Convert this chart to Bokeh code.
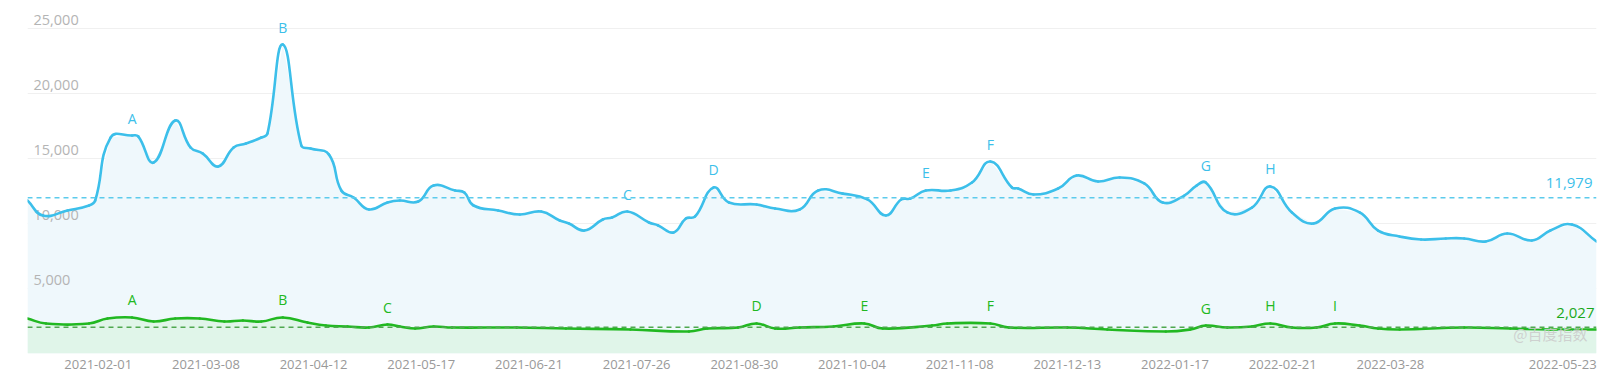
import math
import pandas as pd
from bokeh.plotting import figure
from bokeh.models import Range1d, FixedTicker, DatetimeTickFormatter, Span
from bokeh.core.properties import value
from bokeh.embed import file_html
from bokeh.resources import INLINE

# ---------------- data ----------------
blue_dates = [
    "2021-01-09", "2021-01-14", "2021-01-22", "2021-01-29", "2021-01-31", "2021-02-05",
    "2021-02-12", "2021-02-14", "2021-02-19", "2021-02-26", "2021-03-03", "2021-03-07",
    "2021-03-12", "2021-03-17", "2021-03-21", "2021-03-26", "2021-03-28", "2021-04-02",
    "2021-04-08", "2021-04-11", "2021-04-17", "2021-04-21", "2021-04-25", "2021-04-30",
    "2021-05-06", "2021-05-10", "2021-05-16", "2021-05-21", "2021-05-28", "2021-05-31",
    "2021-06-03", "2021-06-11", "2021-06-18", "2021-06-25", "2021-07-01", "2021-07-04",
    "2021-07-09", "2021-07-15", "2021-07-18", "2021-07-23", "2021-07-30", "2021-08-02",
    "2021-08-07", "2021-08-11", "2021-08-14", "2021-08-20", "2021-08-25", "2021-09-03",
    "2021-09-09", "2021-09-17", "2021-09-23", "2021-10-01", "2021-10-09", "2021-10-15",
    "2021-10-20", "2021-10-23", "2021-10-28", "2021-11-05", "2021-11-12", "2021-11-18",
    "2021-11-25", "2021-11-27", "2021-12-02", "2021-12-10", "2021-12-16", "2021-12-23",
    "2021-12-30", "2022-01-07", "2022-01-13", "2022-01-20", "2022-01-24", "2022-01-27",
    "2022-02-03", "2022-02-11", "2022-02-17", "2022-02-24", "2022-03-03", "2022-03-10",
    "2022-03-18", "2022-03-24", "2022-03-31", "2022-04-07", "2022-04-15", "2022-04-21",
    "2022-04-28", "2022-05-05", "2022-05-13", "2022-05-19", "2022-05-26", "2022-06-03",
]
blue_values = [
    11770, 10615, 11000, 11385, 11770, 16615,
    16770, 16700, 14690, 17920, 15850, 15380,
    14385, 15850, 16150, 16615, 16920, 23770,
    16000, 15770, 15300, 12540, 12000, 11080,
    11615, 11770, 11690, 12920, 12540, 12380,
    11385, 11000, 10690, 10920, 10230, 10000,
    9460, 10310, 10460, 10920, 10080, 9850,
    9310, 10380, 10540, 12770, 11615, 11460,
    11150, 11080, 12540, 12300, 11850, 10615,
    11850, 11920, 12540, 12540, 13150, 14770,
    12770, 12690, 12230, 12690, 13690, 13230,
    13540, 13080, 11615, 12150, 12920, 13150,
    10850, 11230, 12850, 10850, 10000, 11150,
    10850, 9460, 9000, 8770, 8850, 8850,
    8620, 9230, 8690, 9460, 9920, 8620,
]

green_dates = [
    "2021-01-09", "2021-01-15", "2021-01-29", "2021-02-04", "2021-02-12", "2021-02-19",
    "2021-02-26", "2021-03-06", "2021-03-14", "2021-03-20", "2021-03-26", "2021-04-02",
    "2021-04-10", "2021-04-16", "2021-04-23", "2021-04-30", "2021-05-06", "2021-05-10",
    "2021-05-15", "2021-05-21", "2021-05-27", "2021-06-17", "2021-07-03", "2021-07-24",
    "2021-08-12", "2021-08-18", "2021-08-28", "2021-09-03", "2021-09-09", "2021-09-17",
    "2021-09-28", "2021-10-08", "2021-10-14", "2021-10-30", "2021-11-04", "2021-11-18",
    "2021-11-24", "2021-12-13", "2021-12-26", "2022-01-14", "2022-01-22", "2022-01-27",
    "2022-02-03", "2022-02-11", "2022-02-17", "2022-02-24", "2022-03-04", "2022-03-10",
    "2022-03-18", "2022-03-24", "2022-03-31", "2022-04-21", "2022-05-06", "2022-05-19",
    "2022-06-03",
]
green_values = [
    2690, 2310, 2310, 2690, 2770, 2460,
    2690, 2690, 2460, 2540, 2460, 2770,
    2380, 2150, 2080, 2000, 2230, 2080,
    1920, 2080, 2000, 2000, 1920, 1850,
    1690, 1920, 2000, 2310, 1920, 2000,
    2080, 2310, 1920, 2150, 2310, 2310,
    2000, 2000, 1850, 1690, 1850, 2150,
    2000, 2080, 2310, 2000, 2000, 2310,
    2150, 1920, 1850, 2000, 1920, 1850,
    1850,
]

blue_mean = 11979
green_mean = 2027

blue_marks = ["A", "B", "C", "D", "E", "F", "G", "H"]
blue_mark_dates = ["2021-02-12", "2021-04-02", "2021-07-23", "2021-08-20",
                   "2021-10-28", "2021-11-18", "2022-01-27", "2022-02-17"]
green_marks = ["A", "B", "C", "D", "E", "F", "G", "H", "I"]
green_mark_dates = ["2021-02-12", "2021-04-02", "2021-05-06", "2021-09-03",
                    "2021-10-08", "2021-11-18", "2022-01-27", "2022-02-17", "2022-03-10"]

x_tick_labels = ["2021-02-01", "2021-03-08", "2021-04-12", "2021-05-17", "2021-06-21",
                 "2021-07-26", "2021-08-30", "2021-10-04", "2021-11-08", "2021-12-13",
                 "2022-01-17", "2022-02-21", "2022-03-28", "2022-05-23"]
y_ticks = [5000, 10000, 15000, 20000, 25000]
y_tick_labels = ["5,000", "10,000", "15,000", "20,000", "25,000"]
watermark = "@百度指数"

# ---------------- styles ----------------
BLUE = "#3cbfea"
BLUE_FILL = "#eff8fc"
GREEN = "#21b821"
GREEN_FILL = "#e0f5e9"
FONT = "Open Sans"
Y_MAX = 26540
FRAME_W, FRAME_H = 1569, 345


def to_ms(lst):
    return [float(v) for v in
            (pd.to_datetime(lst) - pd.Timestamp("1970-01-01")) // pd.Timedelta("1ms")]


def smooth_segments(xs, ys, sx, sy, smooth=0.45):
    """Bezier control points in the style of a smoothed line chart
    (arm lengths proportional to neighbouring segment lengths on screen)."""
    n = len(xs)
    nxt, prv = [], []
    for i in range(n):
        a, b = max(i - 1, 0), min(i + 1, n - 1)
        vx, vy = xs[b] - xs[a], ys[b] - ys[a]
        lp = math.hypot((xs[i] - xs[a]) * sx, (ys[i] - ys[a]) * sy)
        ln = math.hypot((xs[b] - xs[i]) * sx, (ys[b] - ys[i]) * sy)
        r = ln / (ln + lp) if (ln + lp) > 0 else 0.5
        nxt.append((xs[i] + vx * smooth * r, ys[i] + vy * smooth * r))
        prv.append((xs[i] - vx * smooth * (1 - r), ys[i] - vy * smooth * (1 - r)))
    return dict(
        x0=xs[:-1], y0=ys[:-1], x1=xs[1:], y1=ys[1:],
        cx0=[c[0] for c in nxt[:-1]], cy0=[c[1] for c in nxt[:-1]],
        cx1=[c[0] for c in prv[1:]], cy1=[c[1] for c in prv[1:]],
    )


bx = to_ms(blue_dates)
gx = to_ms(green_dates)
x_start = bx[0]
x_end = bx[-1]
SX = FRAME_W / (x_end - x_start)
SY = FRAME_H / Y_MAX

p = figure(width=1609, height=381, x_axis_type="datetime",
           output_backend="svg", toolbar_location=None,
           x_range=Range1d(x_start, x_end), y_range=Range1d(0, Y_MAX),
           min_border_left=27, min_border_right=13, min_border_top=8,
           min_border_bottom=28)
p.outline_line_color = None
p.background_fill_color = "white"
p.border_fill_color = "white"

# grid
p.xgrid.visible = False
p.ygrid.ticker = FixedTicker(ticks=y_ticks)
p.ygrid.grid_line_color = "#f0f0f0"
p.ygrid.grid_line_width = 1
p.yaxis.visible = False

# x axis
p.xaxis.ticker = FixedTicker(ticks=to_ms(x_tick_labels))
fmt = "%Y-%m-%d"
p.xaxis.formatter = DatetimeTickFormatter(
    milliseconds=fmt, seconds=fmt, minsec=fmt, minutes=fmt, hourmin=fmt,
    hours=fmt, days=fmt, months=fmt, years=fmt)
p.xaxis.axis_line_color = None
p.xaxis.major_tick_line_color = None
p.xaxis.minor_tick_line_color = None
p.xaxis.major_tick_out = 0
p.xaxis.major_tick_in = 0
p.xaxis.major_label_standoff = 6
p.xaxis.major_label_text_font = FONT
p.xaxis.major_label_text_font_size = "13px"
p.xaxis.major_label_text_color = "#999999"

# area fills
p.varea(x=bx, y1=0, y2=blue_values, fill_color=BLUE_FILL)
p.varea(x=gx, y1=0, y2=green_values, fill_color=GREEN_FILL)

# y tick labels (inside the plot, above grid lines)
p.text(x=[x_start] * len(y_ticks), y=y_ticks, text=y_tick_labels,
       text_font=value(FONT), text_font_size="14.5px", text_color="#b4b4b4",
       text_align="left", text_baseline="alphabetic", x_offset=6, y_offset=-8.5)

# mean lines
p.add_layout(Span(location=blue_mean, dimension="width", line_color="#5ccbec",
                  line_dash="5 4", line_width=1.5))
p.add_layout(Span(location=green_mean, dimension="width", line_color="#4fa84f",
                  line_dash="5 4", line_width=1.5))

# series lines (smoothed through the data points)
p.bezier(**smooth_segments(bx, blue_values, SX, SY), line_color=BLUE, line_width=2.6,
         line_cap="round")
p.bezier(**smooth_segments(gx, green_values, SX, SY), line_color=GREEN, line_width=2.6,
         line_cap="round")

# markers
blue_lookup = dict(zip(blue_dates, blue_values))
green_lookup = dict(zip(green_dates, green_values))
p.text(x=to_ms(blue_mark_dates), y=[blue_lookup[d] for d in blue_mark_dates],
       text=blue_marks, text_font=value(FONT), text_font_size="14px", text_color=BLUE,
       text_align="center", text_baseline="middle", y_offset=-17.5)
p.text(x=to_ms(green_mark_dates), y=[green_lookup[d] for d in green_mark_dates],
       text=green_marks, text_font=value(FONT), text_font_size="14px", text_color=GREEN,
       text_align="center", text_baseline="middle", y_offset=-17.5)

# mean labels
p.text(x=[x_end], y=[blue_mean], text=[f"{blue_mean:,}"], text_font=value(FONT),
       text_font_size="15px", text_color=BLUE, text_align="right",
       text_baseline="middle", x_offset=-4, y_offset=-15)
p.text(x=[x_end], y=[green_mean], text=[f"{green_mean:,}"], text_font=value(FONT),
       text_font_size="15px", text_color="#1aa81a", text_align="right",
       text_baseline="middle", x_offset=-2, y_offset=-14.5)

# watermark
p.text(x=[x_end], y=[0], text=[watermark], text_font=value("Noto Sans CJK SC"),
       text_font_size="15px", text_color="#cccccc", text_alpha=0.9, text_align="right",
       text_baseline="middle", x_offset=-9, y_offset=-20)

open("out.html", "w").write(file_html(p, INLINE))
